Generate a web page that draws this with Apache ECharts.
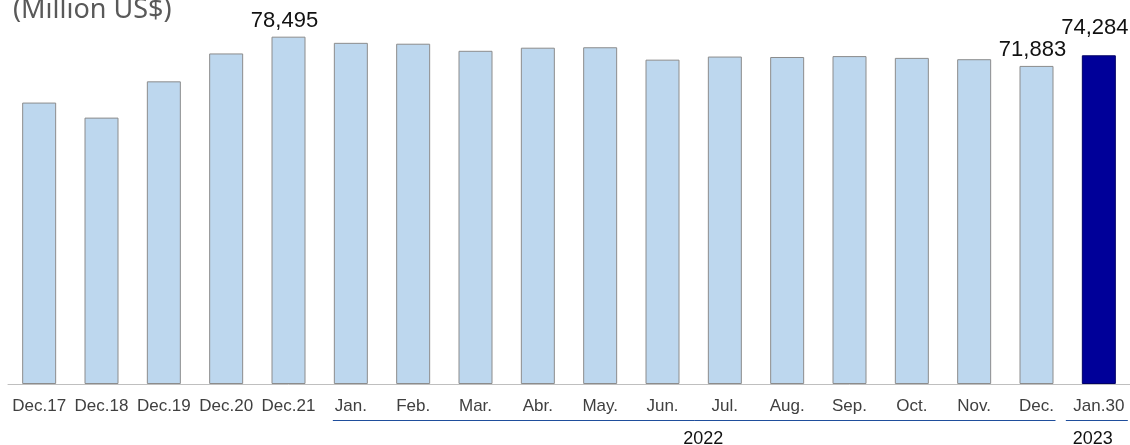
<!DOCTYPE html>
<html>
<head>
<meta charset="utf-8">
<script src="https://cdn.jsdelivr.net/npm/echarts@6/dist/echarts.min.js"></script>
<style>
  html, body { margin: 0; padding: 0; background: #fff; }
  #main { width: 1130px; height: 445px; }
</style>
</head>
<body>
<div id="main"></div>
<script>
// categories and values (Million US$)
const categories = ['Dec.17', 'Dec.18', 'Dec.19', 'Dec.20', 'Dec.21', 'Jan.', 'Feb.', 'Mar.', 'Abr.', 'May.',
  'Jun.', 'Jul.', 'Aug.', 'Sep.', 'Oct.', 'Nov.', 'Dec.', 'Jan.30']
const values = [63600, 60200, 68400, 74700, 78495, 77100, 76900, 75300, 76000, 76100,
  73300, 74000, 73900, 74100, 73700, 73400, 71883, 74284]
const labelled = ['Dec.21', 'Dec.', 'Jan.30']
const yearGroups = [
  { label: '2022', from: 'Jan.', to: 'Dec.' },
  { label: '2023', from: 'Jan.30', to: 'Jan.30' },
]

const chart = echarts.init(document.getElementById('main'))

const seriesData = values.map(function (v, i) {
  const cat = categories[i]
  const last = i === values.length - 1
  const item = { value: v }
  if (last) {
    item.itemStyle = { color: '#000099', borderColor: '#000066' }
  }
  if (labelled.indexOf(cat) >= 0) {
    item.label = { show: true, offset: last ? [-4, -11] : [-4, 0] }
  }
  return item
})

const option = {
  animation: false,
  title: {
    text: '(Million US$)',
    left: 8,
    top: -8,
    textStyle: {
      fontFamily: 'Noto Sans',
      fontSize: 27,
      fontWeight: 'normal',
      color: '#595959',
    },
  },
  grid: {
    left: 8,
    right: 0,
    top: 30,
    bottom: 61,
  },
  xAxis: {
    type: 'category',
    data: categories,
    axisLine: { lineStyle: { color: '#bfbfbf', width: 1 } },
    axisTick: { show: false },
    axisLabel: {
      interval: 0,
      margin: 14,
      fontFamily: 'Liberation Sans',
      fontSize: 17,
      color: '#404040',
    },
  },
  yAxis: {
    type: 'value',
    min: 0,
    max: 80000,
    show: false,
    splitLine: { show: false },
  },
  series: [
    {
      type: 'bar',
      data: seriesData,
      barWidth: 34,
      itemStyle: {
        color: '#bdd7ee',
        borderColor: '#8c8c8c',
        borderWidth: 1,
      },
      label: {
        show: false,
        position: 'top',
        distance: 5,
        fontFamily: 'Liberation Sans',
        fontSize: 22,
        color: '#111',
        formatter: function (p) {
          return p.value.toLocaleString('en-US')
        },
      },
    },
  ],
}
chart.setOption(option)

// year brackets below the month labels
const graphics = []
yearGroups.forEach(function (g) {
  const x1 = chart.convertToPixel({ xAxisIndex: 0 }, g.from)
  const x2 = chart.convertToPixel({ xAxisIndex: 0 }, g.to)
  const single = g.from === g.to
  const left = single ? x1 - 33 : x1 - 18
  const right = single ? x2 + 29 : x2 + 19
  graphics.push({
    type: 'line',
    shape: { x1: left, y1: 420.5, x2: right, y2: 420.5 },
    style: { stroke: '#1f4e9c', lineWidth: 1 },
  })
  graphics.push({
    type: 'text',
    x: single ? x1 - 6 : (left + right) / 2 + 9,
    y: 439,
    style: {
      text: g.label,
      fontFamily: 'Liberation Sans',
      fontSize: 18,
      fill: '#111',
      align: 'center',
      verticalAlign: 'middle',
    },
  })
})
chart.setOption({ graphic: graphics })
</script>
</body>
</html>
